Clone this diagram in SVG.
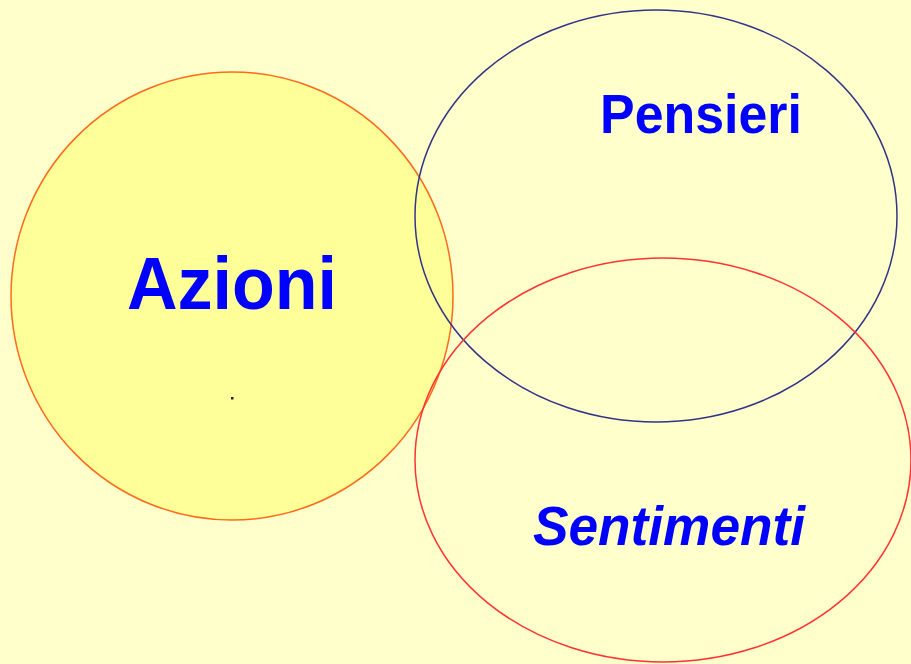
<svg xmlns="http://www.w3.org/2000/svg" width="911" height="664" viewBox="0 0 911 664">
<style>
.lbl{font-family:"Liberation Sans",Arial,sans-serif;font-weight:bold;fill:#0000FF}
</style>
<rect x="0" y="0" width="911" height="664" fill="#FFFFCC"/>
<g id="azioni">
<ellipse cx="232" cy="296" rx="221" ry="224" fill="#FFFF99" stroke="#FF6A1A" stroke-width="1.5"/>
<text class="lbl" x="127" y="309" font-size="74" textLength="210" lengthAdjust="spacingAndGlyphs">Azioni</text>
<rect x="231" y="397" width="2.5" height="2.5" fill="#222"/>
</g>
<g id="pensieri">
<ellipse cx="656" cy="216" rx="241" ry="206" fill="none" stroke="#333388" stroke-width="1.5"/>
<text class="lbl" x="600" y="133" font-size="56" textLength="202" lengthAdjust="spacingAndGlyphs">Pensieri</text>
</g>
<g id="sentimenti">
<ellipse cx="663" cy="460" rx="248" ry="202" fill="none" stroke="#FF3333" stroke-width="1.5"/>
<text class="lbl" x="533" y="545" font-size="56" font-style="italic" textLength="272" lengthAdjust="spacingAndGlyphs">Sentimenti</text>
</g>
<g id="connectors"/>
</svg>
